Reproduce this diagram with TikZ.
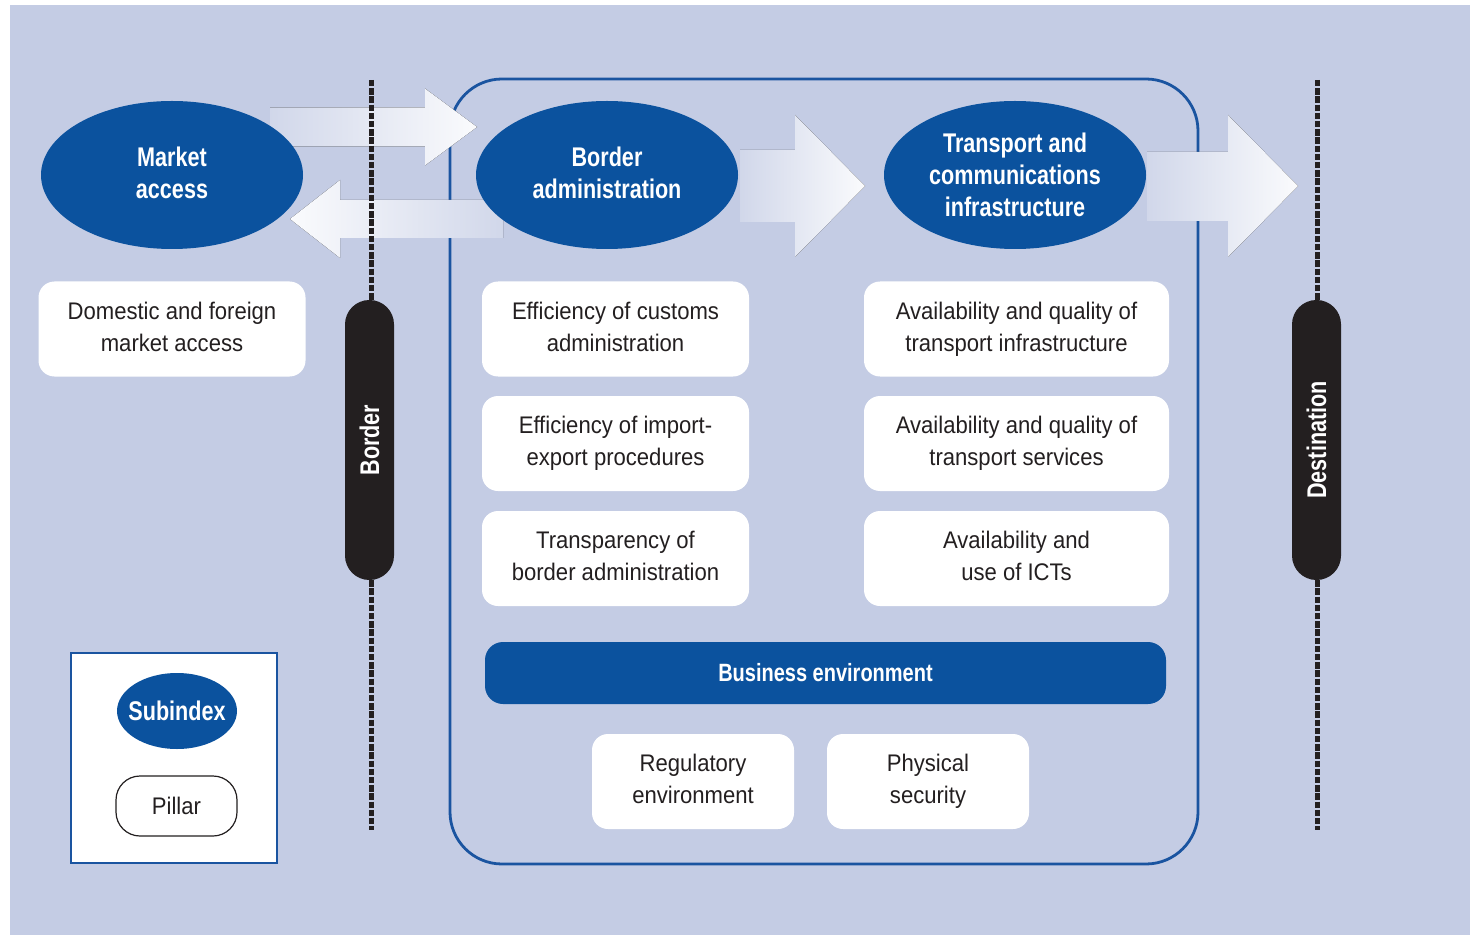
\documentclass[tikz,border=0pt]{standalone}
\usepackage{fontspec}
\setmainfont{Liberation Sans}[FakeStretch=0.92]
\newfontfamily\headfont{Liberation Sans}[FakeStretch=0.8]
\usetikzlibrary{positioning,shapes.geometric}
\definecolor{backblue}{RGB}{196,204,228}
\definecolor{idxblue}{RGB}{11,82,158}
\definecolor{framblue}{RGB}{26,84,160}
\definecolor{gateblack}{RGB}{35,31,32}
\definecolor{inktext}{RGB}{35,31,32}
\tikzset{
  subindex/.style={ellipse,fill=idxblue,text=white,inner sep=0pt,align=center,minimum width=131pt,minimum height=74pt,text depth=2.2pt,font=\headfont\bfseries\fontsize{13.5}{16}\selectfont},
  pillar/.style={fill=white,rounded corners=8pt,text=inktext,inner sep=0pt,align=center,minimum width=133.5pt,minimum height=47.5pt,text depth=2.6pt,font=\fontsize{12}{16}\selectfont},
  widepillar/.style={pillar,minimum width=152.5pt},
  smallpillar/.style={pillar,minimum width=101pt},
  bizbar/.style={fill=idxblue,text=white,rounded corners=9pt,minimum width=340.5pt,minimum height=31pt,inner sep=0pt,font=\headfont\bfseries\fontsize{12.5}{15}\selectfont},
  gate/.style={fill=gateblack,text=white,rotate=90,rounded corners=12.2pt,minimum width=140pt,minimum height=24.5pt,inner sep=0pt,font=\headfont\bfseries\fontsize{13.5}{15}\selectfont},
  frontier/.style={draw=gateblack,line width=2.5pt,dash pattern=on 3.2pt off 0.9pt},
  corridor/.style={draw=framblue,line width=1.4pt,rounded corners=26pt,minimum width=374pt,minimum height=392.5pt,inner sep=0pt},
  flowR/.style={left color=backblue!78!white,right color=backblue!8!white},
  flowL/.style={left color=backblue!8!white,right color=backblue!78!white}
}
\begin{document}
\begin{tikzpicture}[x=0.5pt,y=-0.5pt]
\useasboundingbox (0,0) rectangle (1470,935);
\fill[white] (0,0) rectangle (1470,935);
\fill[backblue] (10,5) rectangle (1470,935);

\node[corridor] (frame) at (824,471.5) {};

\fill[flowR] (270,107.5) -- (425,107.5) -- (425,88.5) -- (477,127) -- (425,165.5) -- (425,146.5) -- (270,146.5) -- cycle;
\fill[flowL] (503,200) -- (340,200) -- (340,180) -- (290,219) -- (340,258) -- (340,238) -- (503,238) -- cycle;
\fill[flowR] (740,150) -- (795,150) -- (795,115) -- (865,186) -- (795,257) -- (795,222) -- (740,222) -- cycle;
\fill[flowR] (1147,152) -- (1228,152) -- (1228,115) -- (1298,186) -- (1228,257) -- (1228,221) -- (1147,221) -- cycle;

\coordinate (bordertop) at (371,80);
\coordinate (borderbot) at (371,830);
\coordinate (desttop) at (1317,80);
\coordinate (destbot) at (1317,830);
\draw[frontier] (bordertop) -- (borderbot);
\draw[frontier] (desttop) -- (destbot);

\node[subindex] (market) at (172,175) {Market\\access};
\node[subindex] (borderadm) at (607,175) {Border\\administration};
\node[subindex,text depth=0.6pt] (transport) at (1015,175) {Transport and\\communications\\infrastructure};

\node[pillar] (domestic) at (172,329) {Domestic and foreign\\market access};
\node[pillar] (customs) at (615.5,329) {Efficiency of customs\\administration};
\node[pillar] (importexport) at (615.5,443.5) {Efficiency of import-\\export procedures};
\node[pillar] (transparency) at (615.5,558.5) {Transparency of\\border administration};
\node[widepillar] (infra) at (1016.5,329) {Availability and quality of\\transport infrastructure};
\node[widepillar] (services) at (1016.5,443.5) {Availability and quality of\\transport services};
\node[widepillar] (icts) at (1016.5,558.5) {Availability and\\use of ICTs};

\node[bizbar] (business) at (825.5,673) {Business environment};
\node[smallpillar] (regulatory) at (693,781.5) {Regulatory\\environment};
\node[smallpillar] (security) at (928,781.5) {Physical\\security};

\node[gate] (border) at (369.5,440) {Border};
\node[gate] (destination) at (1316.5,440) {Destination};

\node[draw=framblue,fill=white,line width=0.6pt,minimum width=103pt,minimum height=105pt,inner sep=0pt] (legend) at (174,758) {};
\node[subindex,inner xsep=-8pt,text depth=0pt,minimum width=60pt,minimum height=38pt] (keyindex) at (177,711) {Subindex};
\node[pillar,draw=inktext,line width=0.6pt,rounded corners=12pt,text depth=0pt,minimum width=60.5pt,minimum height=30pt] (keypillar) at (176.5,806) {Pillar};
\end{tikzpicture}
\end{document}
